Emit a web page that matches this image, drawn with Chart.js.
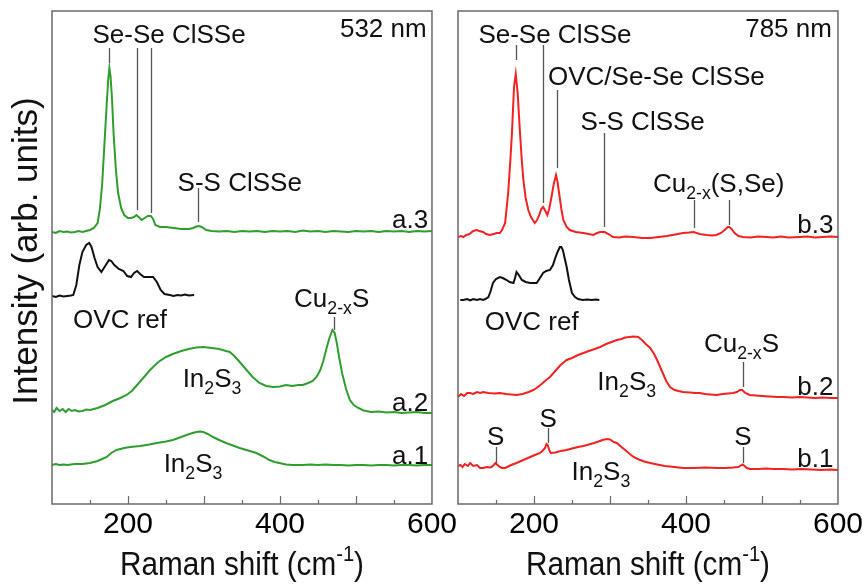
<!DOCTYPE html>
<html><head><meta charset="utf-8">
<script src="https://cdn.jsdelivr.net/npm/chart.js@4/dist/chart.umd.min.js"></script>
<style>
html,body{margin:0;padding:0;background:#fff;}
#wrap{position:relative;width:866px;height:587px;overflow:hidden;background:#fff;}
canvas{position:absolute;top:0;}
</style></head><body>
<div id="wrap">
<canvas id="left" width="460" height="587" style="left:0"></canvas>
<canvas id="right" width="426" height="587" style="left:440px"></canvas>
</div>
<script>
// ---- data: [Raman shift (cm-1), intensity (arb. units, offset)] ----
const tickLabels = ['200', '400', '600'];

const a3 = [[100,272],[105,271],[110,273],[115,272],[120,272.5],[125,271.5],[130,272],[135,273],[140,272],[145,273],[150,274],[155,276],[160,281],[163,295],[166,320],[169,360],[172,400],[174,425],[175.5,436],[177,428],[179,405],[181,371],[184,335],[187,311],[191,296],[195,289],[200,286],[204,286],[208,287],[211,289],[214,287],[218,284],[222,286],[226,288],[230,288],[233,285],[236,279],[242,277],[250,277],[260,276],[270,275],[280,275],[286,276],[290,277.5],[293,278],[297,277],[303,274],[310,273],[320,272.5],[330,273],[340,272],[350,273],[360,272.5],[370,273],[380,272],[390,273],[400,272.5],[410,273],[420,272],[430,273.5],[440,272.5],[450,273],[460,272],[470,273],[480,272.5],[490,272],[500,273],[510,272.5],[520,273],[530,272],[540,273],[550,272.5],[560,273],[570,272],[580,273],[590,272.5],[600,273]];
const ovcA = [[100,208],[105,207],[110,208.5],[115,207.5],[120,208],[125,208.5],[128,209],[132,219],[136,239],[140,252],[145,259],[149,261],[152,257],[156,246],[160,237],[165,232],[170,238],[175,244],[178,243],[182,239],[188,235],[194,233],[199,228],[204,227],[208,231],[212,233],[216,230],[221,227],[227,227],[233,227],[238,222],[243,214],[248,210],[255,209],[260,208],[265,209],[270,208.5],[275,209.5],[280,208.5],[287,209]];
const a2 = [[100,94],[103,92],[106,96],[110,93],[114,95],[118,92],[122,95],[126,93],[130,94],[135,92.5],[140,93],[145,94.5],[150,94],[155,95],[160,96],[170,99],[180,103],[190,106],[198,109],[205,113],[212,119],[220,126],[229,134],[240,142],[250,147],[259,150],[270,153],[280,155],[290,156.5],[299,157],[310,156],[320,155],[329,153],[334,152],[340,148],[347,142],[356,134],[364,127],[373,121],[382,118],[391,117],[400,117.5],[408,119],[416,118],[424,119],[430,119],[437,121],[443,123],[448,127],[453,134],[457,143],[461,155],[465,166],[469,174],[472,171],[475,160],[478,146],[482,130],[487,115],[492,104],[497,99],[503,96],[510,93.5],[520,92],[530,92.5],[540,91.5],[550,92],[560,91],[570,91.5],[580,92],[590,91],[600,91]];
const a1 = [[100,39],[105,40],[110,39],[115,39.5],[120,39],[130,40],[140,40],[150,41],[160,43],[166,45],[172,47],[178,51],[185,54],[195,56],[203,57],[216,58],[228,59.5],[238,61],[250,62.5],[259,64],[270,67],[277,69],[285,71],[290,72],[295,72.5],[299,72],[305,70],[312,67],[320,64],[329,61],[338,58.5],[347,56],[358,53.5],[369,51],[378,47.5],[386,44],[393,42],[399,41],[408,39.5],[417,39],[430,39],[440,39.5],[450,39],[460,39.5],[470,39],[480,39],[490,38.5],[500,39],[510,39],[520,38.5],[530,39],[540,39],[550,38.5],[560,39],[570,39],[580,38.5],[590,39],[600,39]];

const b3 = [[100,267],[104,268],[107,267],[111,269],[115,270],[120,273],[124.6,274],[128,273],[133,272],[137,270],[142,269],[147,270],[151,271],[155,271],[158,274],[162,281],[166,311],[169,345],[171,371],[173.7,417],[176,430],[178.5,411],[181.6,371],[184,343],[186,324],[189,306],[192.5,294],[196,287],[201,281],[204,284],[207,289],[209.5,295],[212,297],[215,293],[217.5,289],[220,295],[223,307],[226,320],[229,329],[231,322],[233,311],[236,295],[238.6,284],[243,277],[247,274],[255,272],[265,271],[272,270],[278,269],[283,271],[287,272],[293,272],[298,270],[304,267],[312,266.5],[320,267.5],[331,267],[342,266],[353,266],[364,267],[375,268],[386,269.5],[396,271],[404,271.5],[410,272],[418,270],[427,269],[434,268.5],[440,269],[446,271],[451,274],[455,277],[457,277],[460,275],[464,271],[469,268],[475,267],[485,266.5],[495,267.5],[506,267],[515,266.5],[525,267.5],[535,266.5],[550,267],[560,267.5],[570,266.5],[580,267],[590,267.5],[600,267]];
const ovcB = [[103,204],[107,204],[112,205],[116,203.5],[120,205],[125,204],[129,205],[133,204],[136,205],[140,207],[143,213],[146,221],[150,225],[155,227],[159,226],[164,224],[168,222],[173,221],[175,226],[177,232],[180,229],[184,224],[189,222],[195,221],[199,221],[203.5,221],[207,225],[212,231],[216,233],[221,234],[225,239],[228,246],[231,252],[234,257],[236,257],[238,254],[240,247],[243,237],[246,224],[250,211],[254,207],[258,205],[264,204],[270,204.5],[276,204],[281,204.5],[286,204]];
const b2 = [[100,107],[104,110],[108,108],[112,111],[116,111],[120,110],[125,112],[129,111],[133,112],[140,111],[148,110.5],[155,111],[163,110],[170,109.5],[177,109],[185,110],[193,112],[199,114],[203.5,116],[210,120],[216,124],[221,127],[228,133],[235,139],[243,144],[250,146],[258,149],[265,151],[272,153],[280,155],[287,157],[295,160],[302,162],[309,164],[315,165],[320,166.5],[326,167],[331,167.5],[337,167],[342,164],[347,160],[353,156],[358,150],[362,144],[366,137],[370,130],[374,123],[379,117],[385,114],[390,113],[396,112],[405,111.5],[412,111],[418,111],[425,110],[432,109.5],[440,109],[448,110],[455,110.5],[462,111],[467,112],[471,114],[474,114],[478,111],[484,109],[492,108.5],[500,108],[510,107.5],[520,107],[528,107],[540,106.5],[550,107],[560,106.5],[570,106],[580,106.5],[590,106],[600,106]];
const b1 = [[100,38],[103,39],[106,37],[109,40],[113,38],[116,41],[120,38],[125,39],[129,36],[133,36],[138,37],[142,36.5],[144,37],[147,39],[149.5,41],[152,39],[155,37],[158,36],[162,36],[166,37.5],[170,39],[177,41],[183,43],[189,45],[195,47],[201,49],[208,51],[211,53],[214.5,56],[216.5,60],[218,59],[220,54],[222,51],[228,51.5],[235,53],[243,54],[250,55.5],[258,57],[265,58],[272,59.5],[279,61],[285,62.5],[290,64],[296,65],[300,64.5],[305,62],[309,61],[315,57],[320,54],[326,50],[331,47],[338,44.5],[345,42.5],[353,41],[362,39.5],[372,38],[385,37],[396,36],[410,36],[425,36.5],[440,36],[452,36],[462,36.5],[469,37],[472,38.5],[474.6,39.5],[477,38],[480,36],[484,35],[495,35],[505,35.5],[515,35],[528,35],[540,34.5],[552,35],[565,34.5],[578,34],[590,34.5],[600,34]];

// ---- annotations (text, x in cm-1, baseline in intensity units) ----
const notesLeft = [
  {t:'Se-Se ClSSe', x:254, y:461, a:'center'},
  {t:'532 nm', x:593, y:467, a:'right'},
  {t:'S-S ClSSe', x:347, y:313, a:'center'},
  {t:'a.3', x:595, y:276, a:'right'},
  {t:'OVC ref', x:189.5, y:176, a:'center'},
  {t:'Cu_{2-x}S', x:468, y:197, a:'center'},
  {t:'In_{2}S_{3}', x:310.5, y:117, a:'center'},
  {t:'a.2', x:595, y:93, a:'right'},
  {t:'In_{2}S_{3}', x:285.5, y:32, a:'center'},
  {t:'a.1', x:595, y:40, a:'right'}
];
const marksLeft = [[175.5,456,441],[212,456,294],[230.5,456,291],[292.5,316,282],[471,187,174]];
const notesRight = [
  {t:'Se-Se ClSSe', x:227.6, y:461, a:'center'},
  {t:'785 nm', x:592, y:467, a:'right'},
  {t:'OVC/Se-Se ClSSe', x:361, y:419, a:'center'},
  {t:'S-S ClSSe', x:343, y:374, a:'center'},
  {t:'Cu_{2-x}(S,Se)', x:443, y:312, a:'center'},
  {t:'b.3', x:594, y:271, a:'right'},
  {t:'OVC ref', x:197, y:174, a:'center'},
  {t:'Cu_{2-x}S', x:473, y:152, a:'center'},
  {t:'In_{2}S_{3}', x:322, y:114, a:'center'},
  {t:'b.2', x:594, y:109, a:'right'},
  {t:'S', x:149.5, y:59, a:'center'},
  {t:'S', x:218.8, y:77, a:'center'},
  {t:'S', x:475, y:59, a:'center'},
  {t:'In_{2}S_{3}', x:288, y:24, a:'center'},
  {t:'b.1', x:594, y:37, a:'right'}
];
const marksRight = [[176,459,444],[211.4,459,301],[230,414,336],[292,371,277],[411,304,276],[457,304,279],[474.6,142,117],[149.5,57,41],[218.8,76,61],[475,57,41]];

const FAM = '"Liberation Sans", Arial, Helvetica, sans-serif';
const GREEN = '#2f9e2f', RED = '#f52020', BLACK = '#111111';

function segs(str){
  const out=[]; const re=/([_^])\{([^}]*)\}/g; let last=0, m;
  while((m=re.exec(str))){ if(m.index>last) out.push({t:str.slice(last,m.index),k:0}); out.push({t:m[2],k:m[1]==='_'?1:2}); last=re.lastIndex; }
  if(last<str.length) out.push({t:str.slice(last),k:0});
  return out;
}
function drawRich(ctx, str, x, y, size, align, sx){
  const ss = segs(str); let w=0;
  ss.forEach(s=>{ s.fs = s.k ? size*0.68 : size; ctx.font = s.fs+'px '+FAM; s.w = ctx.measureText(s.t).width; w += s.w; });
  ctx.save(); ctx.translate(x,y); ctx.scale(sx,1);
  let cx = align==='right' ? -w : (align==='left' ? 0 : -w/2);
  ctx.textAlign='left'; ctx.textBaseline='alphabetic'; ctx.fillStyle='#111';
  ss.forEach(s=>{ ctx.font = s.fs+'px '+FAM; const dy = s.k===1 ? size*0.28 : (s.k===2 ? -size*0.42 : 0); ctx.fillText(s.t, cx, dy); cx += s.w; });
  ctx.restore();
}

const decor = {
  id:'decor',
  afterDraw(chart, args, o){
    const ctx = chart.ctx, xs = chart.scales.x, ys = chart.scales.y, a = chart.chartArea;
    ctx.save();
    // marker lines
    ctx.strokeStyle = '#555'; ctx.lineWidth = 1.3;
    o.marks.forEach(m=>{ const px = Math.round(xs.getPixelForValue(m[0]))+0.5; ctx.beginPath(); ctx.moveTo(px, ys.getPixelForValue(m[1])); ctx.lineTo(px, ys.getPixelForValue(m[2])); ctx.stroke(); });
    // frame
    ctx.strokeStyle = '#6a6a6a'; ctx.lineWidth = 1.5;
    ctx.strokeRect(a.left, a.top, a.right-a.left, a.bottom-a.top);
    // inward ticks
    ctx.lineWidth = 1.2;
    for (let v = 150; v < 600; v += 50){
      const px = Math.round(xs.getPixelForValue(v))+0.5; const len = v % 100 === 0 ? 8 : 4;
      ctx.beginPath(); ctx.moveTo(px, a.bottom); ctx.lineTo(px, a.bottom-len); ctx.stroke();
    }
    // notes
    o.notes.forEach(n=> drawRich(ctx, n.t, xs.getPixelForValue(n.x), ys.getPixelForValue(n.y), 26, n.a, 1));
    // x title
    drawRich(ctx, 'Raman shift (cm^{-1})', (a.left+a.right)/2, 575, 33, 'center', 0.9);
    // y title
    if (o.ytitle){
      ctx.save(); ctx.translate(37, 251); ctx.rotate(-Math.PI/2);
      drawRich(ctx, o.ytitle, 0, 0, 35, 'center', 1);
      ctx.restore();
    }
    ctx.restore();
  }
};

function makeChart(id, series, pad, deco){
  return new Chart(document.getElementById(id), {
    type:'line',
    data:{ datasets: series.map(s=>({ data: s.pts.map(p=>({x:p[0], y:p[1]})), borderColor:s.color, borderWidth:2, pointRadius:0, fill:false, tension:0 })) },
    options:{
      responsive:false, animation:false, devicePixelRatio:1,
      layout:{ padding: pad },
      plugins:{ legend:{display:false}, tooltip:{enabled:false}, decor: deco },
      scales:{
        x:{ type:'linear', min:100, max:600,
            afterFit: s=>{ s.height = 83; },
            ticks:{ stepSize:100, autoSkip:false, maxRotation:0, minRotation:0, padding:3, color:'#000',
                    font:{family:FAM, size:30}, callback: v => tickLabels.includes(String(v)) ? String(v) : '' },
            grid:{ display:false, drawTicks:false }, border:{ display:false } },
        y:{ display:false, min:0, max:493 }
      }
    },
    plugins:[decor]
  });
}

makeChart('left', [
  {pts:a3, color:GREEN}, {pts:ovcA, color:BLACK}, {pts:a2, color:GREEN}, {pts:a1, color:GREEN}
], {left:52, top:11, right:28, bottom:0}, {notes:notesLeft, marks:marksLeft, ytitle:'Intensity (arb. units)'});

makeChart('right', [
  {pts:b3, color:RED}, {pts:ovcB, color:BLACK}, {pts:b2, color:RED}, {pts:b1, color:RED}
], {left:18, top:11, right:28, bottom:0}, {notes:notesRight, marks:marksRight, ytitle:null});
</script>
</body></html>
